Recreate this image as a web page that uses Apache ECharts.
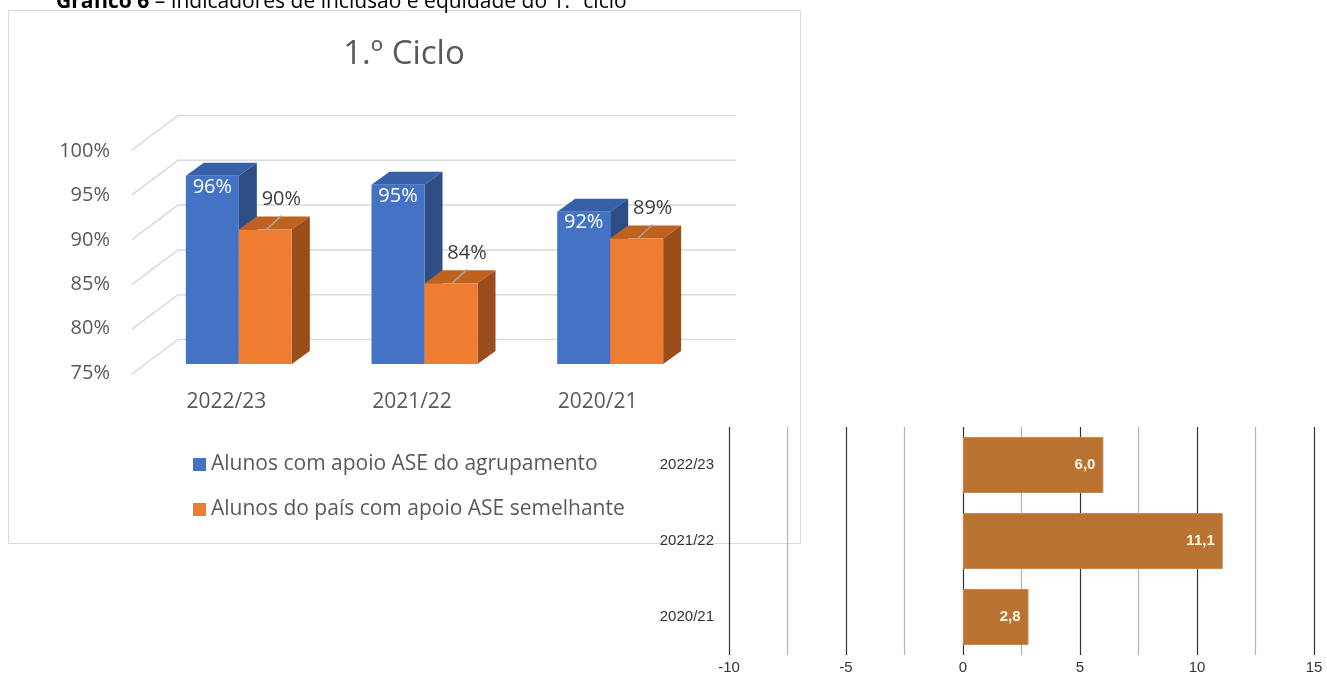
<!DOCTYPE html>
<html>
<head>
<meta charset="utf-8">
<script src="https://cdn.jsdelivr.net/npm/echarts@6/dist/echarts.min.js"></script>
<style>
html,body{margin:0;padding:0;background:#fff;}
#main{width:1327px;height:675px;}
</style>
</head>
<body>
<div id="main"></div>
<script>
// ---- data ----
const categories = ['2022/23', '2021/22', '2020/21'];
const agrupamento = [96, 95, 92];
const pais = [90, 84, 89];
const seriesNames = ['Alunos com apoio ASE do agrupamento', 'Alunos do país com apoio ASE semelhante'];
const valueTicks = [75, 80, 85, 90, 95, 100];
const hbarCategories = ['2022/23', '2021/22', '2020/21'];
const hbarValues = [6.0, 11.1, 2.8];
const chartTitle = '1.º Ciclo';
const figureCaptionBold = 'Gráfico 6';
const figureCaptionRest = ' – Indicadores de inclusão e equidade do 1.º ciclo';

// ---- styling constants ----
const FONT = "'Open Sans', 'Lato', sans-serif";
const NARROW = "'Liberation Sans Narrow', 'Arial Narrow', 'Liberation Sans', sans-serif";
const BAR_W = 53;
const DEPTH_X = 18, DEPTH_Y = -13;
const colorsFront = ['#4472C4', '#ED7D31'];
const colorsTop = ['#3760A8', '#C0621F'];
const colorsSide = ['#2E4D85', '#9A4E1C'];

const chart = echarts.init(document.getElementById('main'));

function barRender(seriesIdx) {
  return function (params, api) {
    const cat = api.value(0);
    const v = api.value(1);
    const top = api.coord([cat, v]);
    const base = api.coord([cat, 75]);
    const x0 = seriesIdx === 0 ? top[0] - BAR_W : top[0];
    const x1 = x0 + BAR_W;
    const yt = top[1], yb = base[1];
    const children = [
      { type: 'polygon', shape: { points: [[x0, yt], [x1, yt], [x1 + DEPTH_X, yt + DEPTH_Y], [x0 + DEPTH_X, yt + DEPTH_Y]] },
        style: { fill: colorsTop[seriesIdx] } },
      { type: 'polygon', shape: { points: [[x1, yt], [x1 + DEPTH_X, yt + DEPTH_Y], [x1 + DEPTH_X, yb + DEPTH_Y], [x1, yb]] },
        style: { fill: colorsSide[seriesIdx] } },
      { type: 'rect', shape: { x: x0, y: yt, width: BAR_W, height: yb - yt },
        style: { fill: colorsFront[seriesIdx] } }
    ];
    const cx = (x0 + x1) / 2;
    const label = Math.round(v) + '%';
    if (seriesIdx === 0) {
      children.push({ type: 'text', x: cx, y: yt + 11,
        style: { text: label, fill: '#FFFFFF', fontSize: 20, fontFamily: FONT, align: 'center', verticalAlign: 'middle' } });
    } else {
      children.push({ type: 'line', shape: { x1: cx + 1, y1: yt, x2: cx + 16, y2: yt - 14 },
        style: { stroke: '#A6A6A6', lineWidth: 1.5 } });
      children.push({ type: 'text', x: cx + 16, y: yt - 30,
        style: { text: label, fill: '#404040', fontSize: 20, fontFamily: FONT, align: 'center', verticalAlign: 'middle' } });
    }
    return { type: 'group', children: children };
  };
}

function gridRender(params, api) {
  const v = api.value(1);
  const p = api.coord([0, v]);
  const cs = params.coordSys;
  const y = p[1];
  return {
    type: 'polyline',
    shape: { points: [[cs.x - 14, y + 10], [cs.x + 32, y - 24.5], [cs.x + cs.width + 33, y - 24.5]] },
    style: { stroke: '#D9D9D9', lineWidth: 1.5, fill: null }
  };
}

const option = {
  backgroundColor: '#ffffff',
  animation: false,
  graphic: [
    { type: 'rect', z: 0, shape: { x: 8.5, y: 10.5, width: 792, height: 533 },
      style: { fill: '#ffffff', stroke: '#D9D9D9', lineWidth: 1 } },
    { type: 'text', x: 56, y: 13, z: 1,
      style: { text: '{b|' + figureCaptionBold + '}{r|' + figureCaptionRest + '}', verticalAlign: 'bottom',
        rich: { b: { fontWeight: 'bold', fontSize: 21, fontFamily: FONT, color: '#000' },
                r: { fontSize: 21, fontFamily: FONT, color: '#000' } } } },
    { type: 'text', x: 404, y: 55, z: 1,
      style: { text: chartTitle, fill: '#595959', fontSize: 33, fontFamily: FONT, align: 'center', verticalAlign: 'middle' } }
  ],
  legend: {
    orient: 'vertical', left: 193, top: 454, itemWidth: 13, itemHeight: 13, itemGap: 24, padding: 0,
    icon: 'rect', data: seriesNames,
    textStyle: { fontSize: 21, color: '#595959', fontFamily: FONT }
  },
  grid: [
    { left: 146, top: 140, width: 557, height: 224 },
    { left: 118, top: 151, width: 10, height: 222 },
    { left: 729, top: 427, width: 585, height: 228 }
  ],
  xAxis: [
    { gridIndex: 0, type: 'category', data: categories,
      axisLine: { show: false }, axisTick: { show: false },
      axisLabel: { fontSize: 21, color: '#595959', fontFamily: FONT, margin: 28, padding: [0, 25, 0, 0] } },
    { gridIndex: 1, type: 'value', show: false },
    { gridIndex: 2, type: 'value', min: -10, max: 15, interval: 5,
      axisLine: { show: false }, axisTick: { show: false },
      axisLabel: { fontSize: 15, color: '#333', fontFamily: NARROW, margin: 5 },
      splitLine: { show: true, lineStyle: { color: '#333', width: 1.2 } },
      minorTick: { show: false, splitNumber: 2 },
      minorSplitLine: { show: true, lineStyle: { color: '#B5B5B5', width: 1.2 } } }
  ],
  yAxis: [
    { gridIndex: 0, type: 'value', min: 75, max: 100, interval: 5, show: false },
    { gridIndex: 1, type: 'value', min: 75, max: 100, interval: 5,
      axisLine: { show: false }, axisTick: { show: false }, splitLine: { show: false },
      axisLabel: { formatter: '{value}%', fontSize: 20, color: '#595959', fontFamily: FONT, margin: 8 } },
    { gridIndex: 2, type: 'category', data: hbarCategories, inverse: true,
      axisLine: { show: false }, axisTick: { show: false },
      axisLabel: { fontSize: 15, color: '#333', fontFamily: NARROW, margin: 15 } }
  ],
  series: [
    { type: 'custom', name: 'grid3d', xAxisIndex: 0, yAxisIndex: 0, silent: true, z: 1,
      data: valueTicks.map(v => [0, v]), renderItem: gridRender, legendHoverLink: false },
    { type: 'custom', name: seriesNames[0], xAxisIndex: 0, yAxisIndex: 0, z: 2,
      itemStyle: { color: colorsFront[0] },
      data: agrupamento.map((v, i) => [i, v]), renderItem: barRender(0) },
    { type: 'custom', name: seriesNames[1], xAxisIndex: 0, yAxisIndex: 0, z: 3,
      itemStyle: { color: colorsFront[1] },
      data: pais.map((v, i) => [i, v]), renderItem: barRender(1) },
    { type: 'bar', name: 'hbar', xAxisIndex: 2, yAxisIndex: 2, data: hbarValues, barWidth: 56,
      itemStyle: { color: '#B87333', borderColor: '#C98A4F', borderWidth: 1 },
      label: { show: true, position: 'insideRight', distance: 8, color: '#FFF4E2', fontWeight: 'bold',
        fontSize: 15, fontFamily: NARROW, formatter: p => p.value.toFixed(1).replace('.', ',') } }
  ]
};
chart.setOption(option);
</script>
</body>
</html>
